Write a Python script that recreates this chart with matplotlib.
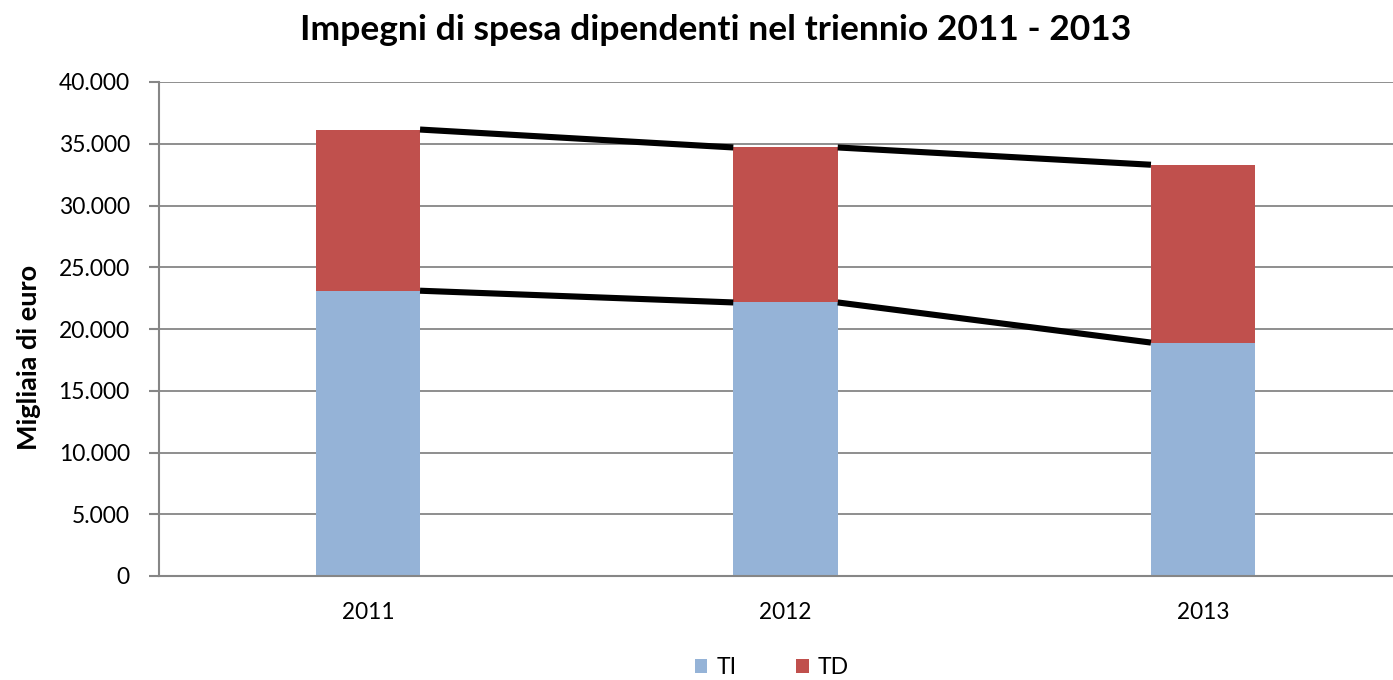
import numpy as np
import matplotlib.pyplot as plt

plt.rcParams['font.family'] = ['Lato', 'DejaVu Sans']

# values (migliaia di euro)
years = ['2011', '2012', '2013']
ti_values = [23100, 22150, 18900]
td_values = [13050, 12550, 14400]
yticks = [0, 5000, 10000, 15000, 20000, 25000, 30000, 35000, 40000]
ytick_labels = ['0', '5.000', '10.000', '15.000', '20.000', '25.000', '30.000', '35.000', '40.000']

TI_COLOR = '#95B3D7'
TD_COLOR = '#C0504D'
GRID_COLOR = '#868686'

fig = plt.figure(figsize=(13.93, 6.8), dpi=100)
# plot area runs a little past the right edge, as in the original
ax = fig.add_axes([159 / 1393, 1 - 576 / 680, 1253 / 1393, (576 - 82) / 680])

x = np.arange(len(years))
width = 0.25
ti = np.array(ti_values)
td = np.array(td_values)
total = ti + td

ax.bar(x, ti, width, color=TI_COLOR, label='TI', zorder=2)
ax.bar(x, td, width, bottom=ti, color=TD_COLOR, label='TD', zorder=2)

# series lines joining the bar tops
for tops in (ti, total):
    for i in range(len(x) - 1):
        ax.plot([x[i] + width / 2, x[i + 1] - width / 2], [tops[i], tops[i + 1]],
                color='black', linewidth=4.4, solid_capstyle='butt', zorder=3)

ax.set_xlim(-0.5, len(years) - 0.5)
ax.set_ylim(0, 40000)
ax.set_yticks(yticks)
ax.set_yticklabels(ytick_labels, fontsize=16.5)
ax.set_xticks(x)
ax.set_xticklabels(years, fontsize=16.3)
ax.tick_params(axis='x', length=0, pad=19)
ax.tick_params(axis='y', length=7, width=1.5, color=GRID_COLOR, pad=14)
ax.yaxis.grid(True, color=GRID_COLOR, linewidth=1.3, zorder=0)
ax.set_axisbelow(True)
for side in ('top', 'right'):
    ax.spines[side].set_visible(False)
for side in ('left', 'bottom'):
    ax.spines[side].set_color(GRID_COLOR)
    ax.spines[side].set_linewidth(1.5)

# y label sits a bit below the axis middle, as in the original
fig.text(29 / 1393, 1 - 357 / 680, 'Migliaia di euro', rotation=90,
         ha='center', va='center', fontsize=19.5, fontweight='bold')

fig.text(716 / 1393, 1 - 30 / 680, 'Impegni di spesa dipendenti nel triennio 2011 - 2013',
         ha='center', va='center', fontsize=25.5, fontweight='bold')

fig.legend(loc='center', bbox_to_anchor=(772 / 1393, 1 - 668 / 680), ncol=2,
           frameon=False, fontsize=16.5, handlelength=0.55, handleheight=0.55,
           handletextpad=0.4, columnspacing=2.6)

fig.savefig('out.png', dpi=100)
